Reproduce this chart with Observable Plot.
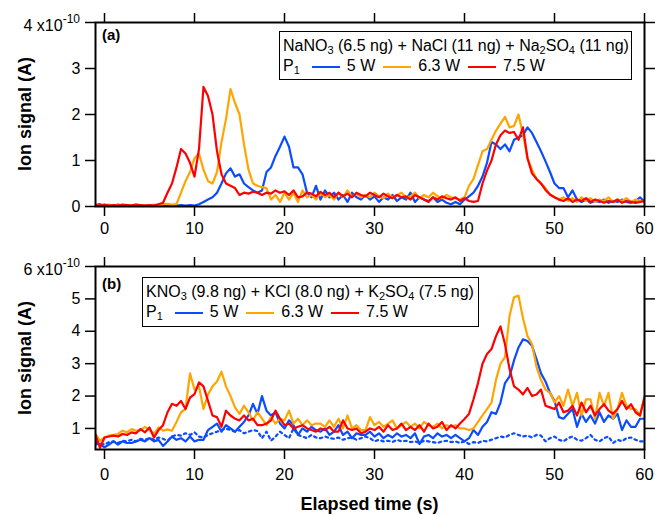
<!DOCTYPE html>
<html><head><meta charset="utf-8">
<script src="https://cdn.jsdelivr.net/npm/d3@7"></script>
<script src="https://cdn.jsdelivr.net/npm/@observablehq/plot@0.6"></script>
<style>
body{margin:0;background:#fff;font-family:Arial,"Liberation Sans",sans-serif;color:#000}
#wrap{position:relative;width:655px;height:516px;overflow:hidden}
.abs{position:absolute;white-space:nowrap;line-height:1}
.ytitle{font-weight:bold;font-size:18px;transform:translate(-50%,-50%) rotate(-90deg)}
.legend{position:absolute;border:1.5px solid #000;background:#fff;box-sizing:border-box;font-size:16px}
.legend .ln{position:absolute;left:3px;white-space:nowrap;line-height:1}
sub{font-size:11px;vertical-align:-3px;line-height:0}
.sw{display:inline-block;width:28px;height:0;border-top:2.5px solid;vertical-align:middle}
.plot{position:absolute;left:0}
</style></head>
<body><div id="wrap"></div>
<script>
// ---- data (sampled every 0.5 s from -1 s to 60 s) ----
const xTicks = [0, 10, 20, 30, 40, 50, 60];
const aYTicks = [0, 1, 2, 3, 4];
const bYTicks = [1, 2, 3, 4, 5, 6];
const powers = ["5 W", "6.3 W", "7.5 W"];
const colors = ["#0b4cff", "#ffa500", "#ff0000"];
const compA = "NaNO<sub>3</sub> (6.5 ng) + NaCl (11 ng) + Na<sub>2</sub>SO<sub>4</sub> (11 ng)";
const compB = "KNO<sub>3</sub> (9.8 ng) + KCl (8.0 ng) + K<sub>2</sub>SO<sub>4</sub> (7.5 ng)";

const aBlue = [
0.03,0.05,0.02,0.03,0.02,0.04,0.02,0.03,0.02,0.03,
0.02,0.03,0.02,0.03,0.02,0.04,0.02,0.03,0.02,0.03,
0.02,0.03,0.02,0.05,0.1,0.15,0.2,0.3,0.5,0.72,
0.83,0.65,0.7,0.5,0.42,0.35,0.3,0.35,0.75,0.85,
1.1,1.3,1.52,1.3,0.85,0.85,0.7,0.3,0.2,0.45,
0.15,0.35,0.2,0.3,0.15,0.25,0.1,0.3,0.2,0.15,
0.25,0.15,0.22,0.1,0.2,0.15,0.25,0.12,0.2,0.15,
0.3,0.1,0.2,0.15,0.12,0.2,0.1,0.15,0.08,0.05,
0.1,0.05,0.15,0.22,0.3,0.45,0.65,0.95,1.4,1.35,
1.25,1.35,1.2,1.45,1.5,1.55,1.72,1.6,1.4,1.2,
0.98,0.75,0.5,0.4,0.4,0.2,0.35,0.15,0.1,0.15,
0.08,0.12,0.1,0.15,0.08,0.12,0.1,0.15,0.1,0.08,
0.12,0.2,0.1];
const aOrange = [
0.03,0.02,0.03,0.04,0.02,0.03,0.02,0.03,0.02,0.04,
0.02,0.03,0.02,0.04,0.03,0.05,0.06,0.04,0.05,0.3,
0.55,0.75,1.05,1.15,0.8,0.55,0.5,0.75,1.4,1.9,
2.55,2.25,2.0,1.35,0.8,0.5,0.45,0.42,0.4,0.15,
0.25,0.1,0.3,0.15,0.3,0.1,0.35,0.2,0.25,0.15,
0.3,0.2,0.25,0.15,0.3,0.2,0.35,0.22,0.28,0.2,
0.25,0.2,0.3,0.22,0.18,0.28,0.2,0.25,0.3,0.2,
0.22,0.3,0.18,0.25,0.2,0.3,0.22,0.18,0.25,0.2,
0.18,0.15,0.2,0.45,0.6,0.9,1.2,1.25,1.45,1.65,
1.8,1.95,1.72,1.75,2.0,1.57,1.05,0.8,0.6,0.5,
0.4,0.25,0.2,0.15,0.2,0.12,0.18,0.1,0.2,0.12,
0.18,0.1,0.15,0.12,0.2,0.1,0.15,0.12,0.18,0.1,
0.15,0.12,0.1];
const aRed = [
0.03,0.02,0.04,0.02,0.03,0.02,0.04,0.03,0.02,0.04,
0.03,0.02,0.03,0.02,0.05,0.08,0.3,0.5,0.85,1.25,
1.15,0.95,0.65,1.25,2.6,2.4,2.0,1.2,0.7,0.5,
0.45,0.4,0.25,0.3,0.28,0.32,0.3,0.25,0.3,0.28,
0.35,0.3,0.33,0.25,0.35,0.2,0.22,0.3,0.28,0.22,
0.32,0.25,0.3,0.2,0.3,0.22,0.28,0.2,0.3,0.25,
0.22,0.3,0.25,0.2,0.28,0.22,0.18,0.25,0.2,0.22,
0.15,0.25,0.2,0.15,0.1,0.2,0.15,0.22,0.18,0.15,
0.2,0.12,0.18,0.12,0.1,0.12,0.5,0.78,1.0,1.35,
1.55,1.65,1.6,1.62,1.45,1.72,1.05,0.72,0.6,0.5,
0.36,0.26,0.2,0.15,0.12,0.18,0.1,0.15,0.12,0.18,
0.1,0.15,0.12,0.08,0.12,0.1,0.15,0.08,0.12,0.1,
0.08,0.1,0.12];

const bBlue = [
0.6,0.5,0.42,0.5,0.6,0.5,0.6,0.55,0.55,0.6,
0.65,0.6,0.7,0.6,0.65,0.46,0.6,0.75,0.65,0.7,
0.6,0.75,0.6,0.65,0.65,0.95,1.05,1.15,0.9,1.1,
1.0,0.9,1.05,1.2,1.4,1.76,1.45,2.0,1.55,1.4,
1.5,1.15,1.0,1.25,1.1,0.8,1.0,0.9,1.05,0.95,
0.9,1.0,0.8,0.9,1.1,0.8,0.9,0.7,0.85,0.8,
0.8,0.9,0.75,0.85,0.7,0.8,0.72,0.85,0.75,0.8,
0.7,0.85,0.52,0.75,0.8,0.7,0.85,0.75,0.8,0.7,
0.8,0.7,0.6,0.7,0.95,0.8,1.05,1.2,1.5,1.45,
1.8,2.4,2.6,3.1,3.5,3.75,3.7,3.55,3.14,2.7,
2.45,2.1,1.85,1.35,1.3,1.45,1.6,1.05,1.45,1.2,
1.4,1.15,1.5,1.2,1.4,1.3,1.45,0.95,1.25,1.05,
1.05,1.3,1.3];
const bBlueDot = [
0.5,0.55,0.5,0.58,0.6,0.55,0.62,0.6,0.65,0.6,
0.68,0.65,0.7,0.65,0.72,0.68,0.62,0.75,0.8,0.78,
0.85,0.8,0.88,0.75,0.72,0.8,0.85,0.9,0.95,1.0,
0.95,0.9,0.95,0.85,0.9,0.95,0.92,0.7,0.9,0.62,
0.75,0.9,0.8,0.7,1.0,0.8,0.75,0.7,0.8,0.72,
0.7,0.75,0.7,0.68,0.72,0.65,0.7,0.72,0.65,0.7,
0.75,0.7,0.6,0.65,0.6,0.62,0.58,0.65,0.6,0.62,
0.58,0.6,0.55,0.62,0.6,0.58,0.55,0.6,0.62,0.58,
0.6,0.55,0.6,0.52,0.58,0.55,0.62,0.6,0.65,0.7,
0.75,0.72,0.8,0.85,0.8,0.75,0.78,0.72,0.8,0.78,
0.6,0.7,0.75,0.65,0.6,0.7,0.75,0.65,0.62,0.7,
0.8,0.65,0.6,0.7,0.75,0.55,0.65,0.6,0.7,0.72,
0.65,0.6,0.6];
const bOrange = [
0.83,0.62,0.72,0.78,0.8,0.83,0.93,0.88,0.98,0.93,
0.95,1.05,0.95,0.83,1.03,0.93,0.97,0.93,1.2,1.5,
1.6,2.7,2.2,2.3,1.6,2.05,2.3,2.45,2.75,2.3,
2.0,1.65,1.45,1.7,1.5,1.25,1.5,1.3,1.1,1.35,
1.15,1.3,1.25,1.55,1.15,1.3,1.1,1.25,1.1,1.15,
1.15,1.05,1.25,1.05,1.3,1.0,1.4,1.0,1.1,0.95,
0.95,1.35,1.1,1.2,1.05,1.15,1.25,1.0,1.1,1.2,
1.05,1.15,1.0,1.2,1.1,1.05,1.15,1.0,1.1,1.05,
1.1,1.0,1.0,0.95,1.0,1.2,1.4,1.6,1.8,2.5,
3.0,3.2,4.47,5.05,5.1,4.4,3.85,3.6,2.9,2.5,
2.2,2.1,1.8,2.0,1.7,2.2,1.7,2.1,1.4,1.9,
1.9,1.3,2.1,1.7,2.1,1.3,1.6,2.1,1.7,1.6,
1.6,1.4,2.0];
const bRed = [
0.8,0.4,0.72,0.75,0.78,0.75,0.83,0.8,0.88,0.85,
0.98,0.88,1.03,0.72,0.95,1.1,1.5,1.76,1.7,1.85,
1.6,1.95,2.06,2.42,2.3,1.85,1.4,1.35,1.05,1.55,
1.4,1.3,1.25,1.4,1.25,1.3,1.1,1.1,1.15,1.25,
1.55,1.3,1.1,1.15,1.0,1.05,1.1,1.0,0.95,0.9,
1.0,0.95,1.05,0.9,0.9,1.25,1.0,0.95,1.0,0.85,
0.9,1.0,0.95,1.05,0.9,1.1,0.95,1.0,1.15,0.95,
1.05,0.95,1.1,0.9,1.15,1.0,1.05,1.2,0.95,1.1,
1.0,1.15,1.29,1.45,1.9,2.4,3.0,3.3,3.45,3.85,
4.15,3.6,2.84,2.3,2.2,2.05,2.25,2.0,2.05,2.2,
1.7,1.65,1.6,1.8,1.5,1.55,1.7,1.4,1.8,1.5,
1.7,1.4,1.6,1.75,1.55,1.45,1.6,1.85,1.6,1.75,
1.5,1.4,1.95];

// sampling grid
const time = d3.range(aBlue.length).map(i => -1 + i * 0.5);
const toRows = vals => vals.map((v, i) => ({t: time[i], v}));

const FONT = 'Arial, "Liberation Sans", sans-serif';
const wrap = document.getElementById("wrap");

function makePanel({height, marginTop, marginBottom, yDomain, yTicks, series, xPad}) {
  const topVal = yTicks[yTicks.length - 1];
  return Plot.plot({
    width: 655, height, marginLeft: 95, marginRight: 11, marginTop, marginBottom,
    style: {fontFamily: FONT, fontSize: "16px", color: "#000", background: "transparent", overflow: "visible"},
    x: {domain: [-1, 60]},
    y: {domain: yDomain},
    marks: [
      ...series.map(s => Plot.line(toRows(s.values), {x: "t", y: "v", stroke: s.color, strokeWidth: 2.2,
        strokeDasharray: s.dash, clip: true})),
      Plot.axisX(xTicks, {anchor: "bottom", tickSize: 10, tickPadding: xPad, fontSize: 16.5, strokeWidth: 1.5, label: null}),
      Plot.axisX(xTicks, {anchor: "top", tickSize: 10, tickFormat: () => "", strokeWidth: 1.5, label: null}),
      Plot.axisY(yTicks, {anchor: "left", tickSize: 10, tickPadding: 5, fontSize: 16, strokeWidth: 1.5,
        tickFormat: d => d === topVal ? "" : String(d), label: null}),
      Plot.axisY(yTicks, {anchor: "right", tickSize: 10, tickFormat: () => "", strokeWidth: 1.5, label: null}),
      Plot.frame({stroke: "#000", strokeWidth: 2})
    ]
  });
}

const pa = makePanel({height: 244, marginTop: 22, marginBottom: 38, yDomain: [0, 4], yTicks: aYTicks, xPad: 6,
  series: [{values: aBlue, color: colors[0]}, {values: aOrange, color: colors[1]}, {values: aRed, color: colors[2]}]});
const pb = makePanel({height: 272, marginTop: 22, marginBottom: 67, yDomain: [0.35, 6], yTicks: bYTicks, xPad: 9,
  series: [{values: bBlueDot, color: colors[0], dash: "2.5,3.5"}, {values: bBlue, color: colors[0]},
           {values: bOrange, color: colors[1]}, {values: bRed, color: colors[2]}]});

function place(el, top) { const d = document.createElement("div"); d.className = "plot"; d.style.top = top + "px"; d.appendChild(el); wrap.appendChild(d); }
place(pa, 0);
place(pb, 244);

function addHTML(html) { wrap.insertAdjacentHTML("beforeend", html); }

// exponent labels
addHTML(`<div class="abs" style="right:${655-80}px;top:18px;font-size:16px">${aYTicks[aYTicks.length-1]} x10<span style="font-size:12px;position:relative;top:-8px">-10</span></div>`);
addHTML(`<div class="abs" style="right:${655-80}px;top:262px;font-size:16px">${bYTicks[bYTicks.length-1]} x10<span style="font-size:12px;position:relative;top:-8px">-10</span></div>`);

// axis titles
addHTML(`<div class="abs ytitle" style="left:25px;top:114px">Ion signal (A)</div>`);
addHTML(`<div class="abs ytitle" style="left:25px;top:358px">Ion signal (A)</div>`);
addHTML(`<div class="abs" style="left:369.5px;top:495px;transform:translateX(-50%);font-weight:bold;font-size:18px">Elapsed time (s)</div>`);

// panel labels
addHTML(`<div class="abs" style="left:102px;top:27px;font-weight:bold;font-size:15px">(a)</div>`);
addHTML(`<div class="abs" style="left:102px;top:276px;font-weight:bold;font-size:15px">(b)</div>`);

// legends
function legend(left, top, width, height, comp) {
  const items = powers.map((p, i) =>
    `<span class="sw" style="border-color:${colors[i]};margin:0 7px 0 ${i===0?12:8}px"></span>${p}`).join("");
  addHTML(`<div class="legend" style="left:${left}px;top:${top}px;width:${width}px;height:${height}px">
    <div class="ln" style="top:6px">${comp}</div>
    <div class="ln" style="top:26px">P<sub>1</sub>${items}</div></div>`);
}
legend(279, 31, 353, 49, compA);
legend(142, 277, 337, 50, compB);
</script></body></html>
